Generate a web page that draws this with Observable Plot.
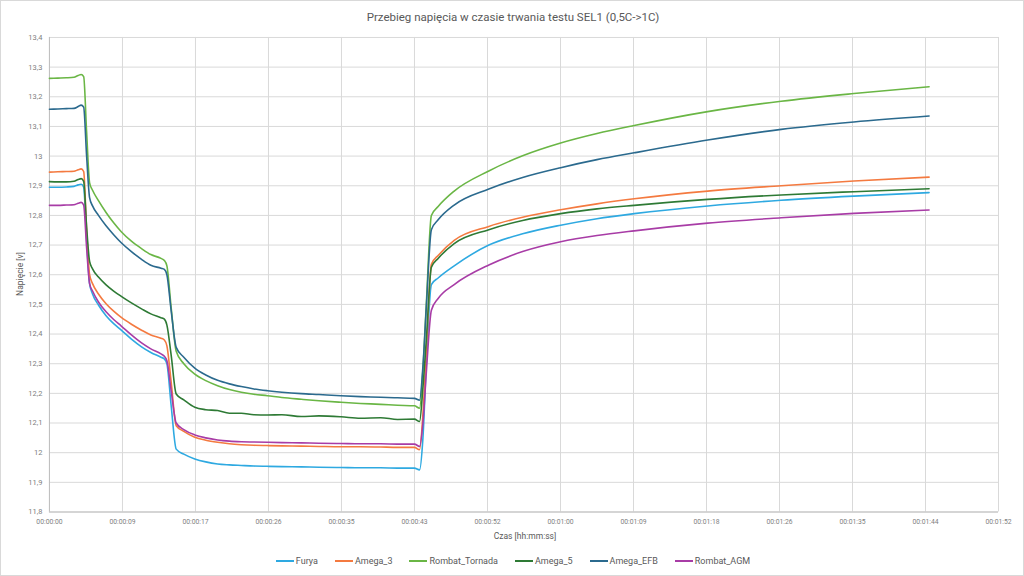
<!DOCTYPE html>
<html>
<head>
<meta charset="utf-8">
<script src="https://cdn.jsdelivr.net/npm/d3@7"></script>
<script src="https://cdn.jsdelivr.net/npm/@observablehq/plot@0.6"></script>
<style>
  html, body { margin: 0; padding: 0; background: #fff; }
  #wrap { position: relative; width: 1024px; height: 576px; box-sizing: border-box; border: 1px solid #d9d9d9; font-family: Roboto, "Liberation Sans", sans-serif; overflow: hidden; }
  #chart { position: absolute; left: -1px; top: -1px; }
  #title { position: absolute; left: 0; width: 1024px; top: 9px; text-align: center; font-size: 11.5px; color: #595959; }
  #ylabel { position: absolute; left: 19px; top: 273px; transform: translate(-50%, -50%) rotate(-90deg); font-size: 8.5px; color: #595959; white-space: nowrap; }
  #xlabel { position: absolute; left: 524px; top: 535px; transform: translate(-50%, -50%); font-size: 8.5px; color: #595959; white-space: nowrap; }
  #legend { position: absolute; left: 0; width: 1024px; top: 555px; display: flex; justify-content: center; gap: 17px; font-size: 9px; color: #595959; }
  .item { display: flex; align-items: center; gap: 2px; }
  .sw { width: 18px; height: 2px; }
</style>
</head>
<body>
<div id="wrap">
  <div id="chart"></div>
  <div id="title">Przebieg napięcia w czasie trwania testu SEL1 (0,5C-&gt;1C)</div>
  <div id="ylabel">Napięcie [v]</div>
  <div id="xlabel">Czas [hh:mm:ss]</div>
  <div id="legend"></div>
</div>
<script>
// time in seconds
const times = [0, 1, 2, 2.9, 3.4, 3.75, 4.05, 4.4, 4.75, 5.1, 5.8, 6.7, 7.6, 8.5, 9.7, 10.9, 12.0, 13.2, 13.6, 13.9, 14.4, 15.0, 15.9, 17.2, 18.5, 19.9, 21.3, 22.7, 24.2, 25.8, 27.5, 29.8, 31.9, 34.5, 36.8, 39.2, 41.2, 43.2, 43.8, 44.2, 44.6, 45.2, 46.0, 47.9, 52.0, 56.0, 60.5, 64.8, 69.2, 77.9, 86.6, 95.2, 104.1];

const furya = [12.895, 12.895, 12.896, 12.898, 12.903, 12.905, 12.895, 12.72, 12.57, 12.535, 12.498, 12.462, 12.435, 12.413, 12.383, 12.357, 12.338, 12.322, 12.316, 12.30, 12.16, 12.012, 11.995, 11.979, 11.969, 11.962, 11.959, 11.957, 11.955, 11.954, 11.953, 11.952, 11.951, 11.950, 11.949, 11.949, 11.948, 11.948, 11.942, 12.05, 12.30, 12.567, 12.589, 12.630, 12.700, 12.738, 12.767, 12.789, 12.806, 12.832, 12.851, 12.865, 12.877];

const amega3 = [12.946, 12.947, 12.948, 12.949, 12.954, 12.957, 12.948, 12.75, 12.60, 12.570, 12.535, 12.502, 12.477, 12.456, 12.433, 12.413, 12.397, 12.386, 12.380, 12.36, 12.24, 12.091, 12.072, 12.052, 12.042, 12.035, 12.030, 12.027, 12.025, 12.024, 12.023, 12.022, 12.021, 12.020, 12.020, 12.019, 12.018, 12.018, 12.010, 12.13, 12.34, 12.635, 12.665, 12.716, 12.763, 12.794, 12.819, 12.839, 12.856, 12.882, 12.900, 12.916, 12.929];

const tornada = [13.262, 13.263, 13.264, 13.266, 13.272, 13.275, 13.268, 13.08, 12.91, 12.885, 12.850, 12.810, 12.775, 12.745, 12.713, 12.688, 12.668, 12.655, 12.648, 12.63, 12.49, 12.342, 12.300, 12.265, 12.243, 12.226, 12.213, 12.204, 12.197, 12.192, 12.186, 12.180, 12.175, 12.170, 12.166, 12.163, 12.160, 12.158, 12.150, 12.28, 12.50, 12.800, 12.830, 12.882, 12.950, 13.001, 13.044, 13.076, 13.103, 13.150, 13.185, 13.211, 13.234];

const amega5 = [12.914, 12.913, 12.913, 12.915, 12.921, 12.924, 12.915, 12.76, 12.645, 12.620, 12.592, 12.566, 12.545, 12.527, 12.505, 12.485, 12.468, 12.455, 12.450, 12.43, 12.33, 12.198, 12.178, 12.153, 12.145, 12.142, 12.133, 12.133, 12.128, 12.127, 12.128, 12.122, 12.124, 12.121, 12.116, 12.118, 12.112, 12.113, 12.105, 12.22, 12.38, 12.625, 12.655, 12.705, 12.752, 12.783, 12.806, 12.822, 12.834, 12.854, 12.869, 12.880, 12.890];

const amegaEFB = [13.158, 13.159, 13.160, 13.161, 13.167, 13.172, 13.165, 13.00, 12.86, 12.832, 12.800, 12.765, 12.735, 12.708, 12.678, 12.652, 12.632, 12.622, 12.618, 12.60, 12.48, 12.355, 12.322, 12.285, 12.262, 12.244, 12.232, 12.223, 12.215, 12.209, 12.204, 12.199, 12.196, 12.192, 12.189, 12.187, 12.185, 12.183, 12.177, 12.29, 12.49, 12.752, 12.785, 12.835, 12.889, 12.928, 12.961, 12.988, 13.011, 13.054, 13.090, 13.115, 13.135];

const rombatAGM = [12.834, 12.834, 12.835, 12.836, 12.841, 12.844, 12.835, 12.69, 12.57, 12.545, 12.508, 12.475, 12.449, 12.427, 12.397, 12.370, 12.350, 12.333, 12.325, 12.31, 12.21, 12.100, 12.078, 12.060, 12.050, 12.043, 12.039, 12.037, 12.036, 12.035, 12.034, 12.033, 12.032, 12.031, 12.030, 12.030, 12.029, 12.029, 12.021, 12.10, 12.27, 12.480, 12.520, 12.567, 12.633, 12.678, 12.711, 12.732, 12.748, 12.774, 12.792, 12.807, 12.818];

const seriesNames = ["Furya", "Amega_3", "Rombat_Tornada", "Amega_5", "Amega_EFB", "Rombat_AGM"];
const seriesValues = [furya, amega3, tornada, amega5, amegaEFB, rombatAGM];
const seriesColors = ["#2ea9e1", "#f47a40", "#6ab645", "#2e7a35", "#2b6a8e", "#a83ca6"];

const yTicks = [11.8, 11.9, 12.0, 12.1, 12.2, 12.3, 12.4, 12.5, 12.6, 12.7, 12.8, 12.9, 13.0, 13.1, 13.2, 13.3, 13.4];
const xTicks = [0, 8.64, 17.28, 25.92, 34.56, 43.2, 51.84, 60.48, 69.12, 77.76, 86.4, 95.04, 103.68, 112.32];
const xTickLabels = ["00:00:00", "00:00:09", "00:00:17", "00:00:26", "00:00:35", "00:00:43", "00:00:52", "00:01:00", "00:01:09", "00:01:18", "00:01:26", "00:01:35", "00:01:44", "00:01:52"];

const rows = seriesNames.flatMap((name, i) => times.map((t, j) => ({t, v: seriesValues[i][j], name})));

const fmtY = d => (Math.round(d * 10) / 10).toFixed(1).replace(/\.0$/, "").replace(".", ",");

const chart = Plot.plot({
  width: 1024,
  height: 576,
  marginLeft: 49,
  marginRight: 25,
  marginTop: 37,
  marginBottom: 64,
  style: {fontFamily: "Roboto, 'Liberation Sans', sans-serif", background: "transparent"},
  x: {domain: [0, 112.32]},
  y: {domain: [11.8, 13.4]},
  color: {domain: seriesNames, range: seriesColors},
  marks: [
    Plot.gridX(xTicks, {stroke: "#d9d9d9", strokeOpacity: 1}),
    Plot.gridY(yTicks, {stroke: "#d9d9d9", strokeOpacity: 1}),
    Plot.ruleX([0], {stroke: "#bfbfbf"}),
    Plot.ruleY([11.8], {stroke: "#bfbfbf"}),
    Plot.axisY(yTicks, {tickSize: 0, tickPadding: 7, tickFormat: fmtY, label: null, fontSize: 7.5, fill: "#808080"}),
    Plot.axisX(xTicks, {tickSize: 0, tickPadding: 7, tickFormat: (d, i) => xTickLabels[i], label: null, fontSize: 6.8, fill: "#808080"}),
    Plot.line(rows, {x: "t", y: "v", z: "name", stroke: "name", curve: "monotone-x", strokeWidth: 1.6})
  ]
});
document.getElementById("chart").appendChild(chart);

const legend = document.getElementById("legend");
seriesNames.forEach((name, i) => {
  const it = document.createElement("div");
  it.className = "item";
  const sw = document.createElement("div");
  sw.className = "sw";
  sw.style.background = seriesColors[i];
  const tx = document.createElement("span");
  tx.textContent = name;
  it.appendChild(sw);
  it.appendChild(tx);
  legend.appendChild(it);
});
</script>
</body>
</html>
